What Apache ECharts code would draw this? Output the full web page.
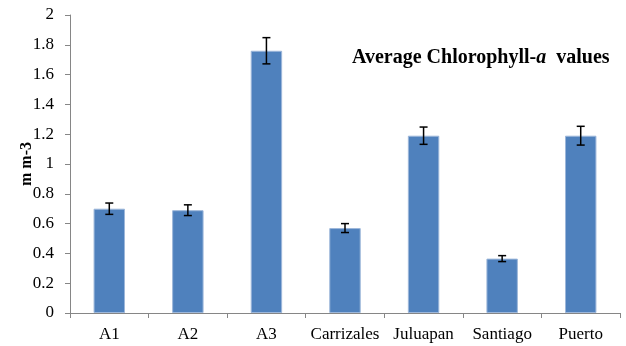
<!DOCTYPE html>
<html>
<head>
<meta charset="utf-8">
<script src="https://cdn.jsdelivr.net/npm/echarts@6/dist/echarts.min.js"></script>
<style>html,body{margin:0;padding:0;background:#fff}#c{width:626px;height:346px}</style>
</head>
<body>
<div id="c"></div>
<script>
const categories = ['A1','A2','A3','Carrizales','Juluapan','Santiago','Puerto'];
const values = [0.70, 0.69, 1.76, 0.57, 1.19, 0.365, 1.19];
const errors = [0.038, 0.036, 0.088, 0.03, 0.058, 0.02, 0.063];
const yTicks = {min: 0, max: 2, interval: 0.2};

const serif = '"Liberation Serif", "Times New Roman", serif';
const chart = echarts.init(document.getElementById('c'));
chart.setOption({
  animation: false,
  title: {
    text: '{b|Average Chlorophyll-}{i|a}{b|  values}',
    left: 347, top: 43,
    textStyle: {
      rich: {
        b: {fontFamily: serif, fontWeight: 'bold', fontSize: 20, color: '#000'},
        i: {fontFamily: serif, fontWeight: 'bold', fontStyle: 'italic', fontSize: 20, color: '#000'}
      }
    }
  },
  grid: {left: 70, right: 6, top: 15, bottom: 33},
  xAxis: {
    type: 'category',
    data: categories,
    boundaryGap: true,
    axisLine: {lineStyle: {color: '#868686', width: 1}},
    axisTick: {show: true, alignWithLabel: false, length: 5, lineStyle: {color: '#868686'}},
    axisLabel: {fontFamily: serif, fontSize: 17, color: '#000', margin: 13, interval: 0, hideOverlap: false}
  },
  yAxis: {
    type: 'value',
    min: yTicks.min, max: yTicks.max, interval: yTicks.interval,
    name: 'm m-3',
    nameLocation: 'middle',
    nameRotate: 90,
    nameGap: 35,
    nameMoveOverlap: false,
    nameTextStyle: {fontFamily: serif, fontWeight: 'bold', fontSize: 16, color: '#000'},
    axisLine: {show: true, lineStyle: {color: '#868686', width: 1}},
    axisTick: {show: true, length: 5, lineStyle: {color: '#868686'}},
    splitLine: {show: false},
    axisLabel: {fontFamily: serif, fontSize: 17, color: '#000', margin: 16,
      formatter: v => String(Math.round(v * 10) / 10)}
  },
  series: [
    {
      type: 'bar',
      data: values,
      barWidth: '40%',
      itemStyle: {color: '#4F81BD', borderColor: '#9DB7DA', borderWidth: 1}
    },
    {
      type: 'custom',
      data: values.map((v, i) => [i, v - errors[i], v + errors[i]]),
      renderItem: function (params, api) {
        const x = api.value(0);
        const lo = api.coord([x, api.value(1)]);
        const hi = api.coord([x, api.value(2)]);
        const cap = 4;
        const style = {stroke: '#000', lineWidth: 1.5};
        return {
          type: 'group',
          children: [
            {type: 'line', shape: {x1: lo[0], y1: lo[1], x2: hi[0], y2: hi[1]}, style},
            {type: 'line', shape: {x1: lo[0] - cap, y1: lo[1], x2: lo[0] + cap, y2: lo[1]}, style},
            {type: 'line', shape: {x1: hi[0] - cap, y1: hi[1], x2: hi[0] + cap, y2: hi[1]}, style}
          ]
        };
      },
      z: 10
    }
  ]
});
</script>
</body>
</html>
